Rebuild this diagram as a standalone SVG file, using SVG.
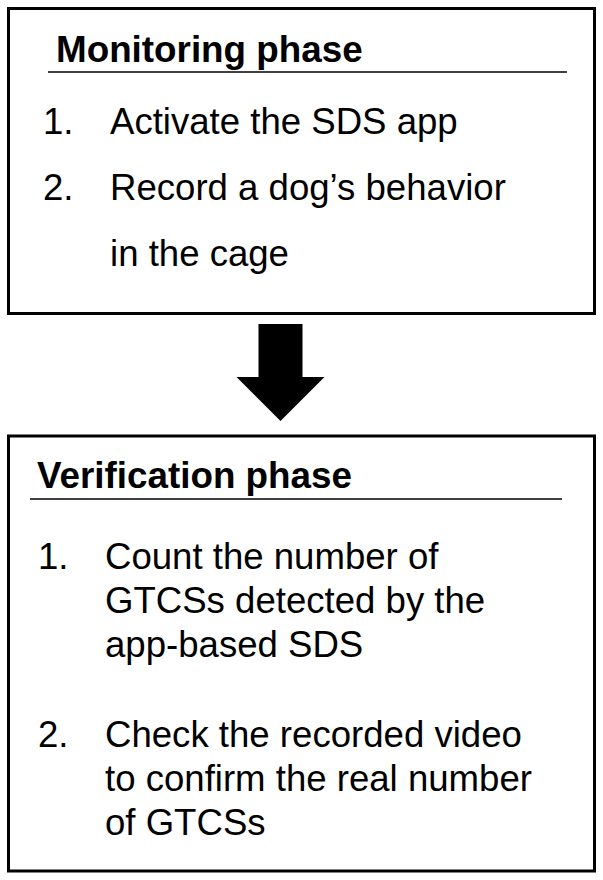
<svg xmlns="http://www.w3.org/2000/svg" width="603" height="880" viewBox="0 0 603 880">
<style>
.box{fill:#fff;stroke:#000;stroke-width:3}
.rule{stroke:#000;stroke-width:1.6}
.title{font-family:"Liberation Sans",Arial,sans-serif;font-weight:bold;font-size:36.8px;fill:#000}
.item{font-family:"Liberation Sans",Arial,sans-serif;font-size:36.6px;fill:#000}
</style>
<rect width="603" height="880" fill="#fff"/>
<g id="monitoring">
<rect class="box" x="8.5" y="8.5" width="586" height="305"/>
<text class="title" x="56" y="62">Monitoring phase</text>
<line class="rule" x1="48" y1="72" x2="567" y2="72"/>
<text class="item" x="43" y="134">1.</text>
<text class="item" x="110" y="134">Activate the SDS app</text>
<text class="item" x="43" y="200">2.</text>
<text class="item" x="110" y="200">Record a dog’s behavior</text>
<text class="item" x="110" y="266">in the cage</text>
</g>
<g id="connectors">
<polygon points="258.5,324 302.5,324 302.5,377 324.5,377 280.5,421 236.5,377 258.5,377" fill="#000"/>
</g>
<g id="verification">
<rect class="box" x="8.5" y="436" width="586" height="435"/>
<text class="title" x="37" y="488">Verification phase</text>
<line class="rule" x1="30" y1="499" x2="562" y2="499"/>
<text class="item" x="38" y="569">1.</text>
<text class="item" x="105" y="569">Count the number of</text>
<text class="item" x="105" y="613">GTCSs detected by the</text>
<text class="item" x="105" y="657">app-based SDS</text>
<text class="item" x="38" y="747">2.</text>
<text class="item" x="105" y="747">Check the recorded video</text>
<text class="item" x="105" y="791">to confirm the real number</text>
<text class="item" x="105" y="835">of GTCSs</text>
</g>
</svg>
